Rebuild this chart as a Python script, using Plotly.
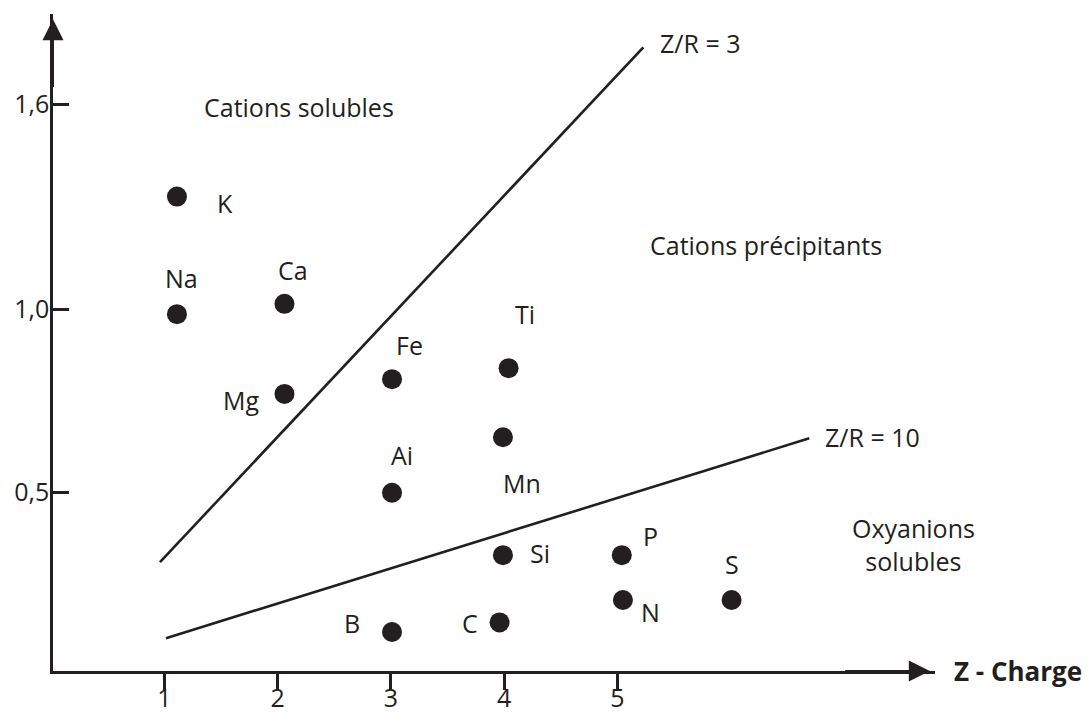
import plotly.graph_objects as go

# ---- data ----
elements = ["K", "Na", "Ca", "Mg", "Fe", "Ti", "Mn", "Ai", "Si", "P", "N", "S", "B", "C"]
charge = [1.11, 1.11, 2.06, 2.06, 3.01, 4.04, 3.99, 3.01, 3.99, 5.04, 5.05, 6.01, 3.01, 3.96]
ionic_radius = [1.306, 0.986, 1.014, 0.769, 0.809, 0.839, 0.651, 0.500, 0.330, 0.330, 0.208, 0.208, 0.121, 0.147]

line3_x = [0.96, 5.23]
line3_y = [0.311, 1.712]
line10_x = [1.013, 6.696]
line10_y = [0.104, 0.648]

y_tick_vals = [0.5, 1.0, 1.557]
y_tick_text = ["0,5", "1,0", "1,6"]
x_tick_vals = [1, 2, 3, 4, 5]
x_tick_text = ["1", "2", "3", "4", "5"]

# ---- styles ----
INK = "#231f20"
FONT = "Open Sans"
FS = 25
# label offsets (pixels) relative to each dot: (dx, dy) with dy downward
label_offsets = {
    "K": (48, 6), "Na": (5, -36), "Ca": (9, -34), "Mg": (-43, 6),
    "Fe": (17, -34), "Ti": (16, -54), "Mn": (19, 46), "Ai": (10, -38),
    "Si": (37, -2), "P": (29, -19), "N": (28, 12), "S": (0, -36),
    "B": (-40, -9), "C": (-30, 1),
}

X_RANGE = [0.015, 7.807]
Y_RANGE = [0.0147, 1.803]

fig = go.Figure()

fig.add_trace(go.Scatter(x=line3_x, y=line3_y, mode="lines",
                         line=dict(color=INK, width=2.6), hoverinfo="skip"))
fig.add_trace(go.Scatter(x=line10_x, y=line10_y, mode="lines",
                         line=dict(color=INK, width=2.6), hoverinfo="skip"))
fig.add_trace(go.Scatter(x=charge, y=ionic_radius, mode="markers",
                         marker=dict(size=20, color=INK, line=dict(width=0)),
                         text=elements, hoverinfo="text", cliponaxis=False))

annotations = []
for name, xv, yv in zip(elements, charge, ionic_radius):
    dx, dy = label_offsets[name]
    annotations.append(dict(x=xv, y=yv, xref="x", yref="y", text=name, showarrow=False,
                            xshift=dx, yshift=-dy, xanchor="center", yanchor="middle",
                            font=dict(family=FONT, size=FS, color=INK)))

# line labels anchored at line ends
annotations.append(dict(x=line3_x[1], y=line3_y[1], text="Z/R = 3", showarrow=False,
                        xanchor="left", yanchor="middle", xshift=15, yshift=4,
                        font=dict(family=FONT, size=FS, color=INK)))
annotations.append(dict(x=line10_x[1], y=line10_y[1], text="Z/R = 10", showarrow=False,
                        xanchor="left", yanchor="middle", xshift=14, yshift=1,
                        font=dict(family=FONT, size=FS, color=INK)))

# region labels
annotations.append(dict(x=2.184, y=1.550, text="Cations solubles", showarrow=False,
                        xanchor="center", yanchor="middle",
                        font=dict(family=FONT, size=FS, color=INK)))
annotations.append(dict(x=6.318, y=1.174, text="Cations précipitants", showarrow=False,
                        xanchor="center", yanchor="middle",
                        font=dict(family=FONT, size=FS, color=INK)))
annotations.append(dict(x=7.621, y=0.359, text="Oxyanions<br>solubles", showarrow=False,
                        xanchor="center", yanchor="middle", align="center",
                        font=dict(family=FONT, size=FS, color=INK)))

# axis title
annotations.append(dict(x=1.0, y=0, xref="paper", yref="paper", text="<b>Z - Charge</b>",
                        showarrow=False, xanchor="left", yanchor="middle", xshift=17,
                        font=dict(family=FONT, size=26, color=INK)))

# arrow heads on axes
annotations.append(dict(x=7.761, y=Y_RANGE[0], ax=7.0, ay=Y_RANGE[0], xref="x", yref="y",
                        axref="x", ayref="y", text="", showarrow=True,
                        arrowhead=2, arrowsize=2.1, arrowwidth=2, arrowcolor=INK))
annotations.append(dict(x=X_RANGE[0], y=1.789, ax=X_RANGE[0], ay=1.6, xref="x", yref="y",
                        axref="x", ayref="y", text="", showarrow=True,
                        arrowhead=2, arrowsize=2.1, arrowwidth=2, arrowcolor=INK))

# page body has an 8px margin: figure is sized/offset to compensate
fig.update_layout(
    width=1082, height=705,
    margin=dict(l=45, r=155, t=6, b=42, autoexpand=False),
    paper_bgcolor="white", plot_bgcolor="white",
    showlegend=False,
    annotations=annotations,
    xaxis=dict(range=X_RANGE, showgrid=False, zeroline=False, showline=True,
               linecolor=INK, linewidth=2.5, ticks="outside", ticklen=16, tickwidth=2.5,
               tickcolor=INK, tickvals=x_tick_vals, ticktext=x_tick_text,
               ticklabelstandoff=-13,
               tickfont=dict(family=FONT, size=FS, color=INK), automargin=False),
    yaxis=dict(range=Y_RANGE, showgrid=False, zeroline=False, showline=True,
               linecolor=INK, linewidth=2.5, ticks="inside", ticklen=16, tickwidth=2.5,
               tickcolor=INK, tickvals=y_tick_vals, ticktext=y_tick_text,
               ticklabelstandoff=-4,
               tickfont=dict(family=FONT, size=FS, color=INK), automargin=False),
)

fig.write_html("out.html")
